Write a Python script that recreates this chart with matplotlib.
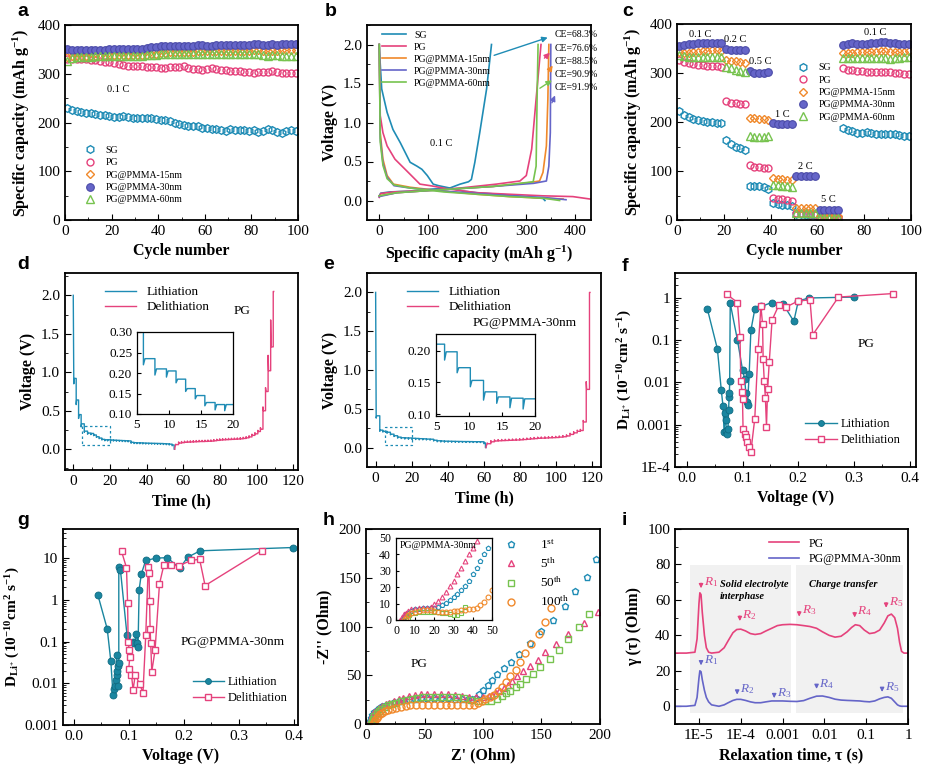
import matplotlib.pyplot as plt
from matplotlib.ticker import MultipleLocator, FixedLocator, FixedFormatter, LogLocator, NullFormatter

plt.rcParams['font.family'] = 'Liberation Serif'
plt.rcParams['mathtext.fontset'] = 'custom'
plt.rcParams['mathtext.rm'] = 'Liberation Serif'
plt.rcParams['mathtext.it'] = 'Liberation Serif:italic'
plt.rcParams['mathtext.bf'] = 'Liberation Serif:bold'
plt.rcParams['xtick.direction'] = 'in'
plt.rcParams['ytick.direction'] = 'in'
plt.rcParams['axes.linewidth'] = 1.3
plt.rcParams['xtick.labelsize'] = 11
plt.rcParams['ytick.labelsize'] = 11
plt.rcParams['xtick.major.size'] = 4
plt.rcParams['ytick.major.size'] = 4
plt.rcParams['xtick.minor.size'] = 2.5
plt.rcParams['ytick.minor.size'] = 2.5

BLUE = '#1f8cb5'
PINK = '#e5427c'
ORANGE = '#f0892b'
PURPLE = '#6565c8'
GREEN = '#77c34f'
TEAL = '#1a86a0'

names = ['SG', 'PG', 'PG@PMMA-15nm', 'PG@PMMA-30nm', 'PG@PMMA-60nm']

# ---- a: cycling at 0.1 C ----
a_cycle = list(range(1, 100, 2))
a_sg = [230, 226, 224, 222, 220, 220, 218, 216, 215, 213, 212, 212, 213, 211, 210, 210, 209, 209, 209, 208,
        206, 205, 204, 200, 196, 194, 193, 192, 192, 189, 188, 187, 186, 185, 183, 186, 184, 184, 184, 182,
        184, 181, 183, 187, 184, 180, 179, 182, 184, 182]
a_pg = [330, 331, 331, 330, 330, 329, 328, 327, 325, 325, 323, 320, 317, 316, 316, 316, 315, 314, 313, 313,
        312, 312, 313, 313, 314, 316, 312, 309, 309, 307, 310, 311, 310, 308, 307, 306, 305, 305, 304, 303,
        302, 303, 303, 304, 305, 304, 302, 302, 301, 301]
a_15 = [335, 336, 336, 336, 337, 337, 337, 337, 337, 338, 338, 338, 338, 338, 338, 338, 338, 339, 340, 341,
        342, 343, 344, 345, 345, 345, 345, 345, 346, 346, 346, 346, 346, 347, 347, 347, 347, 347, 347, 347,
        348, 348, 347, 347, 347, 347, 348, 348, 349, 348]
a_30 = [350, 349, 349, 349, 349, 349, 349, 349, 349, 350, 351, 351, 350, 350, 350, 350, 351, 352, 354, 355,
        356, 356, 356, 356, 356, 356, 356, 357, 358, 358, 357, 357, 358, 358, 359, 360, 360, 360, 360, 360,
        361, 361, 360, 360, 361, 360, 361, 362, 362, 362]
a_60 = [326, 333, 334, 335, 335, 335, 336, 336, 336, 337, 337, 337, 337, 337, 337, 337, 337, 338, 338, 339,
        340, 340, 340, 340, 340, 340, 340, 340, 340, 340, 340, 340, 340, 340, 340, 340, 340, 340, 340, 340,
        340, 340, 338, 337, 338, 338, 337, 336, 336, 336]

# ---- b: first charge/discharge profiles ----
b_sg_dis_c = [0, 2, 5, 16, 28, 43, 63, 77, 87, 98, 110, 121, 144, 171, 199, 266, 334, 338]
b_sg_dis_v = [2.0, 1.75, 1.43, 1.13, 0.91, 0.74, 0.49, 0.44, 0.40, 0.32, 0.21, 0.19, 0.16, 0.12, 0.10, 0.07, 0.026, 0.0]
b_sg_chg_c = [0, 3, 22, 63, 104, 144, 165, 182, 188, 195, 205, 219, 229]
b_sg_chg_v = [0.06, 0.094, 0.11, 0.12, 0.145, 0.16, 0.21, 0.24, 0.27, 0.49, 0.87, 1.43, 2.0]
b_pg_dis_c = [0, 2, 7.5, 16, 32, 56, 83, 104, 144, 199, 266, 334, 395, 432]
b_pg_dis_v = [2.0, 1.09, 0.87, 0.70, 0.53, 0.38, 0.21, 0.19, 0.145, 0.10, 0.08, 0.06, 0.05, 0.017]
b_pg_chg_c = [0, 3, 29, 97, 165, 239, 287, 300, 311, 320, 330]
b_pg_chg_v = [0.04, 0.09, 0.11, 0.13, 0.16, 0.21, 0.25, 0.32, 0.66, 1.3, 2.0]
b_15_dis_c = [0, 2, 7.5, 16, 29, 63, 131, 199, 266, 334, 375]
b_15_dis_v = [2.0, 0.87, 0.53, 0.32, 0.21, 0.17, 0.12, 0.08, 0.05, 0.03, 0.02]
b_15_chg_c = [0, 36, 131, 232, 307, 327, 334, 341, 344, 346]
b_15_chg_v = [0.06, 0.10, 0.14, 0.18, 0.23, 0.25, 0.36, 0.70, 1.3, 2.0]
b_30_dis_c = [0, 2, 7.5, 16, 30, 63, 131, 199, 266, 334, 381]
b_30_dis_v = [2.0, 0.80, 0.48, 0.30, 0.19, 0.16, 0.12, 0.09, 0.06, 0.04, 0.01]
b_30_chg_c = [0, 36, 131, 232, 315, 341, 346, 349, 350]
b_30_chg_v = [0.05, 0.10, 0.14, 0.18, 0.22, 0.25, 0.44, 0.87, 2.0]
b_60_dis_c = [0, 2, 7.5, 16, 30, 63, 131, 199, 266, 334, 368]
b_60_dis_v = [2.0, 0.75, 0.45, 0.28, 0.20, 0.16, 0.11, 0.08, 0.05, 0.03, 0.0]
b_60_chg_c = [0, 36, 131, 232, 314, 320, 322, 324]
b_60_chg_v = [0.06, 0.10, 0.14, 0.18, 0.24, 0.44, 1.3, 2.0]
b_ce = ['CE=68.3%', 'CE=76.6%', 'CE=88.5%', 'CE=90.9%', 'CE=91.9%']
b_ce_y = [2.13, 1.95, 1.78, 1.62, 1.45]

# ---- c: rate performance ----
c_cycle = list(range(1, 100, 2))
c_sg = [222, 215, 210, 207, 205, 203, 201, 199, 198, 197, 163, 156, 150, 146, 142, 70, 70, 70, 68, 63,
        35, 33, 31, 30, 28, 12, 12, 11, 11, 10, 3, 3, 3, 3, 2,
        187, 184, 181, 178, 178, 179, 178, 176, 175, 175, 176, 175, 174, 172, 172]
c_pg = [326, 322, 320, 318, 316, 316, 315, 315, 314, 313, 242, 239, 238, 237, 237, 112, 109, 108, 107, 107,
        45, 43, 42, 41, 39, 15, 14, 14, 13, 13, 5, 5, 4, 4, 4,
        310, 307, 306, 305, 304, 303, 302, 302, 302, 302, 302, 300, 299, 298, 297]
c_15 = [342, 340, 341, 342, 343, 344, 345, 346, 346, 345, 327, 325, 324, 322, 320, 209, 208, 207, 206, 205,
        86, 84, 83, 82, 82, 24, 24, 24, 24, 24, 8, 8, 8, 8, 8,
        341, 341, 341, 342, 342, 342, 343, 343, 344, 345, 343, 342, 342, 343, 344]
c_30 = [355, 358, 360, 360, 361, 361, 361, 362, 362, 362, 349, 347, 346, 346, 346, 304, 301, 301, 301, 302,
        197, 195, 195, 195, 196, 90, 89, 89, 89, 89, 20, 20, 20, 20, 20,
        358, 360, 361, 360, 359, 360, 361, 362, 363, 363, 362, 361, 360, 360, 360]
c_60 = [336, 334, 333, 332, 332, 332, 332, 332, 332, 332, 313, 310, 307, 304, 303, 172, 170, 170, 170, 171,
        72, 71, 70, 69, 68, 15, 14, 14, 14, 14, 5, 5, 5, 5, 5,
        330, 331, 331, 331, 330, 330, 330, 331, 330, 330, 329, 330, 331, 332, 333]
c_rates = ['0.1 C', '0.2 C', '0.5 C', '1 C', '2 C', '5 C', '0.1 C']
c_rate_x = [10, 25, 35.5, 45, 55, 64.5, 84.5]
c_rate_y = [378, 368, 324, 215, 110, 41, 383]

# ---- d/e: GITT (pulse times, relaxed voltage, pulse tip voltage) ----
d_li_t = [0.3, 1.6, 2.9, 4.3, 6.0, 7.8, 9.6, 11.1, 12.6, 14.1, 15.6, 17.2, 18.7, 20.3, 21.9, 23.5, 25.1, 26.7,
          28.3, 29.9, 31.5, 33.1, 34.7, 36.3, 37.9, 39.5, 41.1, 42.7, 44.3, 45.9, 47.5, 49.1, 50.7, 52.3, 53.9, 55.0]
d_li_flat = [0.92, 0.64, 0.45, 0.33, 0.235, 0.21, 0.205, 0.185, 0.162, 0.145, 0.128, 0.123, 0.123, 0.12, 0.118,
             0.116, 0.114, 0.112, 0.11, 0.108, 0.09, 0.085, 0.083, 0.082, 0.08, 0.079, 0.078, 0.077, 0.076,
             0.075, 0.074, 0.072, 0.07, 0.066, 0.055, 0.0]
d_li_tip = [0.85, 0.58, 0.40, 0.29, 0.22, 0.195, 0.19, 0.176, 0.155, 0.137, 0.12, 0.11, 0.108, 0.108, 0.106,
            0.104, 0.102, 0.1, 0.098, 0.096, 0.078, 0.074, 0.072, 0.071, 0.069, 0.068, 0.067, 0.066, 0.065,
            0.064, 0.063, 0.061, 0.059, 0.055, 0.045, 0.0]
d_de_t = [55.8, 57.4, 59.0, 60.6, 62.2, 63.8, 65.4, 67.0, 68.6, 70.2, 71.8, 73.4, 75.0, 76.6, 78.2, 79.8, 81.4,
          83.0, 84.6, 86.2, 87.8, 89.4, 91.0, 92.6, 94.2, 95.8, 97.4, 99.0, 100.6, 102.0, 103.4, 104.8, 106.2,
          107.6, 109.0]
d_de_flat = [0.06, 0.08, 0.085, 0.09, 0.092, 0.094, 0.096, 0.098, 0.1, 0.1, 0.102, 0.104, 0.106, 0.11, 0.115,
             0.12, 0.122, 0.124, 0.126, 0.128, 0.13, 0.132, 0.135, 0.14, 0.148, 0.16, 0.18, 0.2, 0.23, 0.26,
             0.5, 0.75, 1.02, 1.33, 2.05]
d_de_tip = [0.065, 0.095, 0.1, 0.105, 0.107, 0.109, 0.111, 0.113, 0.115, 0.115, 0.117, 0.119, 0.121, 0.125,
            0.13, 0.135, 0.137, 0.139, 0.141, 0.143, 0.145, 0.147, 0.15, 0.155, 0.163, 0.175, 0.195, 0.215,
            0.245, 0.28, 0.55, 0.8, 1.22, 1.68, 2.05]

e_li_t = [0.3, 2.3, 4.0, 6.3, 8.2, 10.2, 12.2, 14.2, 16.2, 18.2, 20.2, 22.2, 24.2, 26.2, 28.2, 30.2, 32.2, 34.2,
          36.2, 38.2, 40.2, 42.2, 44.2, 46.2, 48.2, 50.2, 52.2, 54.2, 56.2, 58.2, 60.2, 61.0]
e_li_flat = [0.41, 0.225, 0.21, 0.198, 0.173, 0.153, 0.135, 0.127, 0.125, 0.124, 0.12, 0.118, 0.115, 0.113,
             0.11, 0.108, 0.095, 0.088, 0.085, 0.083, 0.082, 0.081, 0.08, 0.079, 0.078, 0.078, 0.077, 0.076,
             0.076, 0.075, 0.06, 0.0]
e_li_tip = [0.38, 0.21, 0.2, 0.185, 0.165, 0.143, 0.122, 0.117, 0.11, 0.108, 0.105, 0.104, 0.1, 0.1, 0.098,
            0.096, 0.085, 0.075, 0.072, 0.07, 0.07, 0.069, 0.068, 0.068, 0.067, 0.067, 0.066, 0.066, 0.065,
            0.065, 0.05, 0.0]
e_de_t = [62.0, 64.0, 66.0, 68.0, 70.0, 72.0, 74.0, 76.0, 78.0, 80.0, 82.0, 84.0, 86.0, 88.0, 90.0, 92.0, 94.0,
          96.0, 98.0, 100.0, 102.0, 104.0, 106.0, 108.0, 110.0, 112.0, 113.7, 115.3, 117.0, 118.8]
e_de_flat = [0.05, 0.075, 0.085, 0.088, 0.09, 0.092, 0.094, 0.096, 0.098, 0.1, 0.104, 0.108, 0.112, 0.116,
             0.12, 0.122, 0.124, 0.126, 0.128, 0.13, 0.135, 0.14, 0.15, 0.17, 0.19, 0.21, 0.22, 0.33, 0.75, 2.0]
e_de_tip = [0.06, 0.09, 0.1, 0.103, 0.105, 0.107, 0.109, 0.111, 0.113, 0.115, 0.119, 0.123, 0.127, 0.131,
            0.135, 0.137, 0.139, 0.141, 0.143, 0.145, 0.15, 0.155, 0.165, 0.185, 0.205, 0.225, 0.235, 0.35,
            0.85, 2.0]

# ---- f/g: diffusion coefficients ----
f_li_v = [0.037, 0.055, 0.062, 0.065, 0.067, 0.069, 0.070, 0.071, 0.072, 0.074, 0.075, 0.076, 0.0765, 0.077,
          0.078, 0.091, 0.100, 0.104, 0.106, 0.108, 0.109, 0.112, 0.115, 0.122, 0.134, 0.152, 0.173, 0.192,
          0.200, 0.219, 0.300]
f_li_d = [0.55, 0.062, 0.0065, 0.0028, 0.00068, 0.0019, 0.0013, 0.0007, 0.0006, 0.0008, 0.0022, 0.0045, 0.0055,
          0.011, 0.75, 0.1, 0.02, 0.012, 0.0055, 0.0035, 0.003, 0.016, 0.17, 0.54, 0.63, 0.78, 0.71, 0.28, 0.85,
          1.0, 1.05]
f_de_v = [0.072, 0.091, 0.0955, 0.097, 0.099, 0.100, 0.101, 0.104, 0.106, 0.108, 0.111, 0.115, 0.122, 0.128,
          0.133, 0.136, 0.137, 0.139, 0.141, 0.143, 0.145, 0.148, 0.153, 0.165, 0.178, 0.200, 0.221, 0.226,
          0.272, 0.369]
f_de_d = [1.22, 0.78, 0.12, 0.011, 0.006, 0.004, 0.00078, 0.0006, 0.0005, 0.0004, 0.0003, 0.00023, 0.0014,
          0.063, 0.63, 0.24, 0.035, 0.011, 0.0044, 0.0009, 0.007, 0.031, 0.3, 0.67, 0.61, 0.85, 0.9, 0.135,
          1.05, 1.27]
g_li_v = [0.044, 0.061, 0.0675, 0.0715, 0.0735, 0.075, 0.0765, 0.078, 0.079, 0.0795, 0.080, 0.081, 0.082,
          0.082, 0.085, 0.097, 0.107, 0.110, 0.114, 0.116, 0.117, 0.119, 0.123, 0.131, 0.150, 0.170, 0.193,
          0.207, 0.230, 0.399]
g_li_d = [1.3, 0.2, 0.034, 0.0052, 0.0072, 0.0085, 0.012, 0.047, 0.016, 0.02, 0.0085, 0.026, 0.03, 6.0, 5.2,
          0.14, 0.1, 0.09, 0.15, 0.09, 0.075, 1.75, 4.2, 8.8, 10.0, 10.3, 5.7, 10.5, 15.0, 18.0]
g_de_v = [0.087, 0.096, 0.098, 0.099, 0.101, 0.102, 0.100, 0.105, 0.108, 0.112, 0.120, 0.126, 0.131, 0.1355,
          0.137, 0.138, 0.139, 0.140, 0.142, 0.148, 0.156, 0.164, 0.177, 0.191, 0.213, 0.229, 0.239, 0.342]
g_de_d = [14.5, 5.9, 0.86, 0.1, 0.063, 0.042, 0.022, 0.016, 0.007, 0.016, 0.0095, 0.006, 0.14, 6.0, 4.4, 0.95,
          0.2, 0.095, 0.019, 0.063, 2.4, 6.9, 6.9, 6.5, 8.8, 9.4, 2.2, 15.2]

# ---- h: Nyquist plots ----
h_labels = [r'1$^{\mathrm{st}}$', r'5$^{\mathrm{th}}$', r'50$^{\mathrm{th}}$', r'100$^{\mathrm{th}}$']
h1_re = [2, 3, 4, 5, 7, 9, 11, 14, 17, 20, 24, 28, 32, 37, 42, 47, 52, 58, 64, 70,
         76, 82, 87, 91, 94, 97, 100, 104, 108, 112, 118, 124, 131, 140, 150, 160, 170, 179, 189, 197]
h1_im = [0, 3, 6, 9, 12, 14, 16, 18, 19.5, 21, 22.5, 23.5, 24.5, 25.5, 26, 26.5, 27, 27, 27, 26.5,
         26, 25.5, 25.5, 26, 27, 31, 35, 40, 45, 51, 57, 64, 72, 83, 95, 107, 121, 136, 151, 169]
h5_re = [2, 3, 4, 5, 7, 9, 11, 14, 17, 20, 24, 28, 32, 37, 42, 47, 52, 58, 64, 70,
         76, 82, 88, 94, 100, 105, 108, 111, 114, 118, 121, 125, 129, 134, 140, 147, 153, 162, 173, 186, 198]
h5_im = [0, 3, 6, 9, 12, 14, 16, 18.5, 20.5, 22, 24, 25.5, 27, 28.5, 29.5, 30.5, 31, 31, 31, 30.5,
         30, 29, 28, 27.5, 27.5, 28.5, 30, 32, 34, 36.5, 40, 44, 49, 54, 60, 66, 73.5, 82, 92, 103.5, 115]
h50_re = [4, 5, 6, 7, 9, 11, 13, 16, 19, 22, 26, 30, 34, 39, 44, 49, 54, 60, 66, 72,
          78, 84, 90, 96, 102, 107, 112, 116, 120, 123, 128, 132, 137, 143, 149, 157, 165, 173, 182, 191]
h50_im = [0, 2, 5, 8, 11, 13, 15, 17, 19, 20.5, 22, 23.5, 25, 26, 27, 27.5, 28, 28, 28, 28,
          27.5, 26.5, 25, 24, 23.5, 24, 26, 29, 31.5, 34, 37.5, 41, 46, 51, 58, 67, 76, 87, 100, 113]
h100_re = [6, 7, 8, 9, 10, 12, 14, 16, 19, 22, 26, 30, 34, 38, 43, 48, 53, 58, 63, 68,
           73, 78, 83, 88, 92, 96, 99, 102, 106, 109, 113, 116, 120, 123, 128, 132, 136, 141, 148, 153, 158]
h100_im = [0, 2, 4, 6, 8, 10, 11.5, 13, 14, 15, 16.5, 17.5, 18.5, 19, 19.5, 20, 20, 20, 20, 19.5,
           19.5, 19, 19, 19.5, 20, 21.5, 23.5, 25.5, 27.5, 30, 33.5, 37.5, 43, 49, 55.5, 64, 72.5, 82, 92, 105, 118.5]
hi1_re = [3, 4, 5, 6, 8, 10, 12, 14, 16, 18, 20, 22, 24, 26, 28, 30, 32, 34, 36, 38, 40, 42, 44, 46, 48]
hi1_im = [0, 2, 3.5, 4.5, 5.5, 6.5, 7, 7.5, 7.5, 7.5, 7.5, 8, 9, 10.5, 12, 14, 16, 18, 21, 24, 28, 32, 36, 40, 44]
hi5_re = [2, 3, 4, 5, 6, 8, 10, 12, 14, 16, 18, 20, 22, 24, 26, 28, 30, 32, 34, 36, 38, 40, 42]
hi5_im = [0, 2, 3.5, 4.5, 5.5, 6.5, 7, 7.5, 7.5, 7.5, 8, 9.5, 11.5, 14, 17, 20.5, 24, 28, 32, 36, 40, 44, 48]
hi50_re = [5, 6, 7, 8, 10, 12, 14, 16, 18, 20, 22, 24, 26, 28, 30, 32, 34, 36]
hi50_im = [0, 1.5, 3, 4, 4.5, 5, 5, 5, 5, 5, 5, 4.5, 4, 3.5, 3, 3, 4, 8]
hi100_re = [4, 5, 6, 8, 10, 12, 14, 16, 18, 20, 22, 24, 26, 28, 30, 32, 34, 36, 38, 40, 42, 44, 46, 48, 50]
hi100_im = [0, 1.5, 3, 4, 5, 5.5, 6, 6, 6, 5.5, 5, 5, 5, 5, 5.5, 5.5, 6, 6, 6.5, 7, 7.5, 9, 11, 14, 18]

# ---- i: distribution of relaxation times ----
i_tau = [2.7e-6, 5e-6, 8e-6, 9e-6, 1.0e-5, 1.05e-5, 1.12e-5, 1.2e-5, 1.35e-5, 1.5e-5, 1.7e-5, 2e-5, 3e-5, 4e-5,
         5e-5, 6.5e-5, 8e-5, 1e-4, 1.3e-4, 1.7e-4, 2.2e-4, 3e-4, 4e-4, 5.5e-4, 7.5e-4, 1e-3, 1.5e-3, 2.2e-3,
         3.2e-3, 4.5e-3, 6.5e-3, 9e-3, 1.3e-2, 1.8e-2, 2.5e-2, 3.5e-2, 4.5e-2, 5.5e-2, 7e-2, 9e-2, 0.12, 0.16,
         0.21, 0.27, 0.33, 0.4, 0.48, 0.56, 0.63, 0.7, 0.8, 1.0]
i_pg = [30, 30, 30.5, 38, 58, 64, 63, 53, 40, 33, 30.5, 30, 30.5, 33, 37, 41.5, 43.3, 43.5, 42.5, 41,
        40.5, 41, 42.5, 44, 45.5, 46, 46.2, 46, 45.5, 45, 44, 42, 40, 39, 39.5, 42, 44.5, 46, 45.5, 43,
        41, 41.5, 43, 47, 51, 52, 50, 44, 36, 31, 30, 30]
i_pm = [0, 0, 0.5, 5, 16, 20, 19.5, 15, 9, 5, 2.5, 0.8, 0, 0.8, 2, 3.3, 3.9, 3.9, 3.3, 2.5,
        2, 2, 2.5, 3, 3, 3, 2.8, 2.7, 3.2, 4.5, 5.7, 5.8, 5, 4, 3.5, 3.3, 3.2, 3.1, 3, 2.7,
        2.5, 3, 4.2, 5, 5.3, 4.5, 2.5, 0.8, 0.2, 0, 0, 0]
i_pg_arrow_x = [1.12e-5, 9.5e-5, 2.5e-3, 0.053, 0.30]
i_pg_arrow_y = [71, 52.5, 55, 54.5, 60]
i_pm_arrow_x = [1.12e-5, 8.2e-5, 6.3e-4, 6.5e-3, 0.24]
i_pm_arrow_y = [27, 10.5, 8.5, 13.7, 12]


W, H = 931, 765
fig = plt.figure(figsize=(W / 100, H / 100), dpi=100)


def panel(l, t, r, b):
    return fig.add_axes([l / W, 1 - b / H, (r - l) / W, (b - t) / H])


def letter(x, y, s):
    fig.text(x / W, 1 - y / H, s, fontsize=14, fontweight='bold', family='Liberation Sans', va='top')


def gitt_line(t0, v0, t, flat, tip):
    xs, ys = [t0], [v0]
    for i in range(len(t)):
        xs += [t[i], t[i] + 0.25]
        ys += [tip[i], flat[i]]
        if i + 1 < len(t):
            xs.append(t[i + 1])
            ys.append(flat[i])
    return xs, ys


LAB = dict(fontsize=11.5, fontweight='bold')
cap_label = r'Specific capacity (mAh g$^{\mathbf{-1}}$)'

# marker styles shared by a and c
styles = [dict(marker='h', mfc='none', mec=BLUE, ms=5.5, mew=1),
          dict(marker='o', mfc='none', mec=PINK, ms=5, mew=1),
          dict(marker='D', mfc='none', mec=ORANGE, ms=4.5, mew=1),
          dict(marker='o', mfc=PURPLE, mec='#4b4ba8', ms=5.5, mew=0.8),
          dict(marker='^', mfc='none', mec=GREEN, ms=5.5, mew=1)]

# ---------- a ----------
ax = panel(65, 25, 298, 220)
for ys, st, nm in zip([a_sg, a_pg, a_15, a_30, a_60], styles, names):
    ax.plot(a_cycle, ys, ls='none', label=nm, **st)
ax.set_xlim(0, 100)
ax.set_ylim(0, 400)
ax.xaxis.set_major_locator(MultipleLocator(20))
ax.xaxis.set_minor_locator(MultipleLocator(10))
ax.yaxis.set_major_locator(MultipleLocator(100))
ax.yaxis.set_minor_locator(MultipleLocator(50))
ax.set_xlabel('Cycle number', **LAB)
ax.set_ylabel(cap_label, **LAB)
ax.text(23, 262, '0.1 C', fontsize=7.5, ha='center')
ax.legend(loc='lower left', bbox_to_anchor=(0.05, 0.06), frameon=False, fontsize=7, handletextpad=0.6,
          labelspacing=0.35, borderaxespad=0)
letter(17, 3, 'a')

# ---------- b ----------
ax = panel(367, 25, 591, 220)
b_sets = [(b_sg_dis_c, b_sg_dis_v, b_sg_chg_c, b_sg_chg_v, BLUE),
          (b_pg_dis_c, b_pg_dis_v, b_pg_chg_c, b_pg_chg_v, PINK),
          (b_15_dis_c, b_15_dis_v, b_15_chg_c, b_15_chg_v, ORANGE),
          (b_30_dis_c, b_30_dis_v, b_30_chg_c, b_30_chg_v, PURPLE),
          (b_60_dis_c, b_60_dis_v, b_60_chg_c, b_60_chg_v, GREEN)]
for (dc, dv, cc, cv, col), nm in zip(b_sets, names):
    ax.plot(dc, dv, color=col, lw=1.2, label=nm)
    ax.plot(cc, cv, color=col, lw=1.2)
# CE arrows: start on the charge curve, end at the label
arrows_b = [((229, 1.85), (349, 2.10), BLUE), ((333, 1.80), (352, 1.92), PINK),
            ((342, 1.62), (357, 1.76), ORANGE), ((323, 1.42), (357, 1.56), GREEN),
            ((350, 1.22), (361, 1.38), PURPLE)]
for (p0, p1, col) in arrows_b:
    ax.annotate('', xy=p1, xytext=p0, arrowprops=dict(arrowstyle='-|>', color=col, lw=1, mutation_scale=8))
for s, y in zip(b_ce, b_ce_y):
    ax.text(358, y, s, fontsize=7, va='center')
ax.text(127, 0.70, '0.1 C', fontsize=7.5, ha='center')
ax.set_xlim(-25, 432)
ax.set_ylim(-0.25, 2.25)
ax.xaxis.set_major_locator(MultipleLocator(100))
ax.xaxis.set_minor_locator(MultipleLocator(50))
ax.yaxis.set_major_locator(MultipleLocator(0.5))
ax.yaxis.set_minor_locator(MultipleLocator(0.25))
ax.yaxis.set_major_formatter(plt.FormatStrFormatter('%.1f'))
ax.set_xlabel(r'Specific capacity (mAh g$^{\mathbf{-1}}$)', **LAB)
ax.set_ylabel('Voltage (V)', **LAB)
ax.legend(loc='upper left', bbox_to_anchor=(0.05, 0.99), frameon=False, fontsize=7, handlelength=2.5,
          labelspacing=0.3, borderaxespad=0)
letter(325, 3, 'b')

# ---------- c ----------
ax = panel(677, 24, 911, 220)
for ys, st, nm in zip([c_sg, c_pg, c_15, c_30, c_60], styles, names):
    ax.plot(c_cycle, ys, ls='none', label=nm, **st)
for s, x, y in zip(c_rates, c_rate_x, c_rate_y):
    ax.text(x, y, s, fontsize=7.5, ha='center', va='center')
ax.set_xlim(0, 100)
ax.set_ylim(0, 400)
ax.xaxis.set_major_locator(MultipleLocator(20))
ax.xaxis.set_minor_locator(MultipleLocator(10))
ax.yaxis.set_major_locator(MultipleLocator(100))
ax.yaxis.set_minor_locator(MultipleLocator(50))
ax.set_xlabel('Cycle number', **LAB)
ax.set_ylabel(cap_label, **LAB)
ax.legend(loc='upper left', bbox_to_anchor=(0.48, 0.82), frameon=False, fontsize=7, handletextpad=0.6,
          labelspacing=0.35, borderaxespad=0)
letter(622, 3, 'c')

# ---------- d / e ----------
gitt_sets = [((65, 273, 298, 470), (137, 332, 233, 414), d_li_t, d_li_flat, d_li_tip, d_de_t, d_de_flat,
              d_de_tip, 55.25, (-4.5, 122.5), (-0.27, 2.29), (0.10, 0.30), 0.05, (5, 0.05, 15, 0.25),
              'PG', (92, 1.79), 'd', (17, 256)),
             ((367, 273, 601, 467), (436, 334, 535, 416), e_li_t, e_li_flat, e_li_tip, e_de_t, e_de_flat,
              e_de_tip, 61.25, (-4.8, 125.2), (-0.25, 2.25), (0.097, 0.226), 0.05, (5, 0.03, 15, 0.24),
              'PG@PMMA-30nm', (83, 1.61), 'e', (323, 256))]
for (box, ibox, lt, lf, lp, dt, df, dp, t_end, xl, yl, iyl, istep, rect, name, npos, let, lpos) in gitt_sets:
    ax = panel(*box)
    lx, ly = gitt_line(0, 2.0, lt, lf, lp)
    dx, dy = gitt_line(t_end, 0.0, dt, df, dp)
    ax.plot(lx, ly, color=BLUE, lw=1, label='Lithiation')
    ax.plot(dx, dy, color=PINK, lw=1, label='Delithiation')
    ax.add_patch(plt.Rectangle(rect[:2], rect[2], rect[3], fill=False, ls=(0, (2, 2)), lw=0.9, ec=BLUE))
    ax.set_xlim(*xl)
    ax.set_ylim(*yl)
    ax.xaxis.set_major_locator(MultipleLocator(20))
    ax.xaxis.set_minor_locator(MultipleLocator(10))
    ax.yaxis.set_major_locator(MultipleLocator(0.5))
    ax.yaxis.set_minor_locator(MultipleLocator(0.25))
    ax.yaxis.set_major_formatter(plt.FormatStrFormatter('%.1f'))
    ax.set_xlabel('Time (h)', **LAB)
    ax.set_ylabel('Voltage (V)', **LAB)
    ax.text(npos[0], npos[1], name, fontsize=9.5, ha='center', va='center')
    ax.legend(loc='upper left', bbox_to_anchor=(0.15, 0.96), frameon=False, fontsize=9.5, handlelength=2.3,
              labelspacing=0.2, borderaxespad=0)
    ia = panel(*ibox)
    ia.plot(lx, ly, color=BLUE, lw=1)
    ia.set_xlim(5, 20)
    ia.set_ylim(*iyl)
    ia.xaxis.set_major_locator(MultipleLocator(5))
    ia.yaxis.set_major_locator(MultipleLocator(istep))
    ia.yaxis.set_major_formatter(plt.FormatStrFormatter('%.2f'))
    ia.tick_params(labelsize=9.5, length=3)
    for sp in ia.spines.values():
        sp.set_linewidth(0.9)
    letter(lpos[0], lpos[1], let)

# ---------- f / g ----------
diff_sets = [((675, 273, 916, 467), f_li_v, f_li_d, f_de_v, f_de_d, (-0.021, 0.411), (1e-4, 3.9),
              [1e-4, 1e-3, 1e-2, 1e-1, 1], ['1E-4', '0.001', '0.01', '0.1', '1'], 'PG', (0.322, 0.083),
              (0.52, 0.08), 'f', (622, 258)),
             ((63, 529, 298, 725), g_li_v, g_li_d, g_de_v, g_de_d, (-0.0195, 0.408), (1e-3, 50),
              [1e-3, 1e-2, 1e-1, 1, 10], ['0.001', '0.01', '0.1', '1', '10'], 'PG@PMMA-30nm', (0.29, 0.1),
              (0.53, 0.08), 'g', (17, 512))]
for (box, lv, ld, dv, dd, xl, yl, yt, ytl, name, npos, lgpos, let, lpos) in diff_sets:
    ax = panel(*box)
    ax.plot(lv, ld, color=TEAL, lw=1, marker='o', ms=5, mfc=TEAL, mec='#0f6b82', mew=0.6, label='Lithiation')
    ax.plot(dv, dd, color=PINK, lw=1, marker='s', ms=4.5, mfc='white', mec=PINK, mew=1, label='Delithiation')
    ax.set_yscale('log')
    ax.set_xlim(*xl)
    ax.set_ylim(*yl)
    ax.yaxis.set_major_locator(FixedLocator(yt))
    ax.yaxis.set_major_formatter(FixedFormatter(ytl))
    ax.yaxis.set_minor_locator(LogLocator(subs=range(2, 10)))
    ax.yaxis.set_minor_formatter(NullFormatter())
    ax.xaxis.set_major_locator(MultipleLocator(0.1))
    ax.xaxis.set_minor_locator(MultipleLocator(0.05))
    ax.xaxis.set_major_formatter(plt.FormatStrFormatter('%.1f'))
    ax.set_xlabel('Voltage (V)', **LAB)
    ax.set_ylabel(r'$\mathbf{D_{Li^{+}}}$ $\mathbf{(10^{-10}cm^{2}\ s^{-1})}$', fontsize=11, labelpad=1)
    ax.text(npos[0], npos[1], name, fontsize=9.5, ha='center', va='center')
    ax.legend(loc='lower left', bbox_to_anchor=lgpos, frameon=False, fontsize=9, handlelength=2.5,
              handletextpad=0.3, labelspacing=0.35, borderaxespad=0, markerscale=0.85)
    letter(lpos[0], lpos[1], let)

# ---------- h ----------
ax = panel(366, 529, 600, 724)
h_sets = [(h1_re, h1_im, hi1_re, hi1_im, 'p', BLUE), (h5_re, h5_im, hi5_re, hi5_im, '^', PINK),
          (h50_re, h50_im, hi50_re, hi50_im, 's', GREEN), (h100_re, h100_im, hi100_re, hi100_im, 'o', ORANGE)]
for (re, im, ire, iim, mk, col), lab in zip(h_sets, h_labels):
    ax.plot(re, im, ls='none', marker=mk, ms=5, mfc='none', mec=col, mew=1, label=lab)
ax.set_xlim(0, 200)
ax.set_ylim(0, 200)
ax.xaxis.set_major_locator(MultipleLocator(50))
ax.xaxis.set_minor_locator(MultipleLocator(25))
ax.yaxis.set_major_locator(MultipleLocator(50))
ax.yaxis.set_minor_locator(MultipleLocator(25))
ax.set_xlabel("Z' (Ohm)", **LAB)
ax.set_ylabel("-Z'' (Ohm)", **LAB)
ax.text(45, 62, 'PG', fontsize=9.5, ha='center', va='center')
ax.legend(loc='upper left', bbox_to_anchor=(0.54, 0.98), frameon=False, fontsize=9.5, handletextpad=1.2,
          labelspacing=0.35, borderaxespad=0)
ia = panel(396, 538, 492, 620)
for (re, im, ire, iim, mk, col) in h_sets:
    ia.plot(ire, iim, ls='none', marker=mk, ms=3.5, mfc='none', mec=col, mew=0.8)
ia.set_xlim(0, 50)
ia.set_ylim(0, 50)
ia.xaxis.set_major_locator(MultipleLocator(10))
ia.yaxis.set_major_locator(MultipleLocator(10))
ia.tick_params(labelsize=8.5, length=2.5)
ia.text(2, 48, 'PG@PMMA-30nm', fontsize=7, va='top')
for sp in ia.spines.values():
    sp.set_linewidth(0.9)
letter(323, 512, 'h')

# ---------- i ----------
ax = panel(675, 529, 908, 724)
ax.axvspan(6.1e-6, 1.55e-3, ymin=(-3.6 + 10) / 110, ymax=(79.7 + 10) / 110, color='#f1f1f1', lw=0)
ax.axvspan(2.04e-3, 0.76, ymin=(-3.6 + 10) / 110, ymax=(79.7 + 10) / 110, color='#f1f1f1', lw=0)
ax.plot(i_tau, i_pg, color=PINK, lw=1.2, label='PG')
ax.plot(i_tau, i_pm, color=PURPLE, lw=1.2, label='PG@PMMA-30nm')
for k, (xa, ya) in enumerate(zip(i_pg_arrow_x, i_pg_arrow_y)):
    ax.annotate('', xy=(xa, ya - 6), xytext=(xa, ya), arrowprops=dict(arrowstyle='-|>', color=PINK, lw=0.9,
                                                                       mutation_scale=6))
    ax.text(xa * 1.15, ya - 1, r'$R_{%d}$' % (k + 1), color=PINK, fontsize=9.5, va='center')
for k, (xa, ya) in enumerate(zip(i_pm_arrow_x, i_pm_arrow_y)):
    ax.annotate('', xy=(xa, ya - 5.5), xytext=(xa, ya), arrowprops=dict(arrowstyle='-|>', color=PURPLE, lw=0.9,
                                                                        mutation_scale=6))
    ax.text(xa * 1.15, ya - 1, r'$R_{%d}$' % (k + 1), color=PURPLE, fontsize=9.5, va='center')
ax.text(3.2e-5, 71, 'Solid electrolyte\ninterphase', fontsize=7.5, fontweight='bold', style='italic',
        va='top', linespacing=1.3)
ax.text(4.4e-3, 71, 'Charge transfer', fontsize=7.5, fontweight='bold', style='italic', va='top')
ax.set_xscale('log')
ax.set_xlim(2.67e-6, 1)
ax.set_ylim(-10, 100)
ax.xaxis.set_major_locator(FixedLocator([1e-5, 1e-4, 1e-3, 1e-2, 1e-1, 1]))
ax.xaxis.set_major_formatter(FixedFormatter(['1E-5', '1E-4', '0.001', '0.01', '0.1', '1']))
ax.xaxis.set_minor_locator(LogLocator(subs=range(2, 10)))
ax.xaxis.set_minor_formatter(NullFormatter())
ax.yaxis.set_major_locator(MultipleLocator(20))
ax.yaxis.set_minor_locator(MultipleLocator(10))
ax.set_xlabel('Relaxation time, τ (s)', **LAB)
ax.set_ylabel('γ (τ) (Ohm)', **LAB)
ax.legend(loc='upper right', bbox_to_anchor=(0.99, 0.98), frameon=False, fontsize=8.5, handlelength=2.5,
          labelspacing=0.3, borderaxespad=0)
letter(622, 512, 'i')

fig.savefig('out.png', dpi=100)
